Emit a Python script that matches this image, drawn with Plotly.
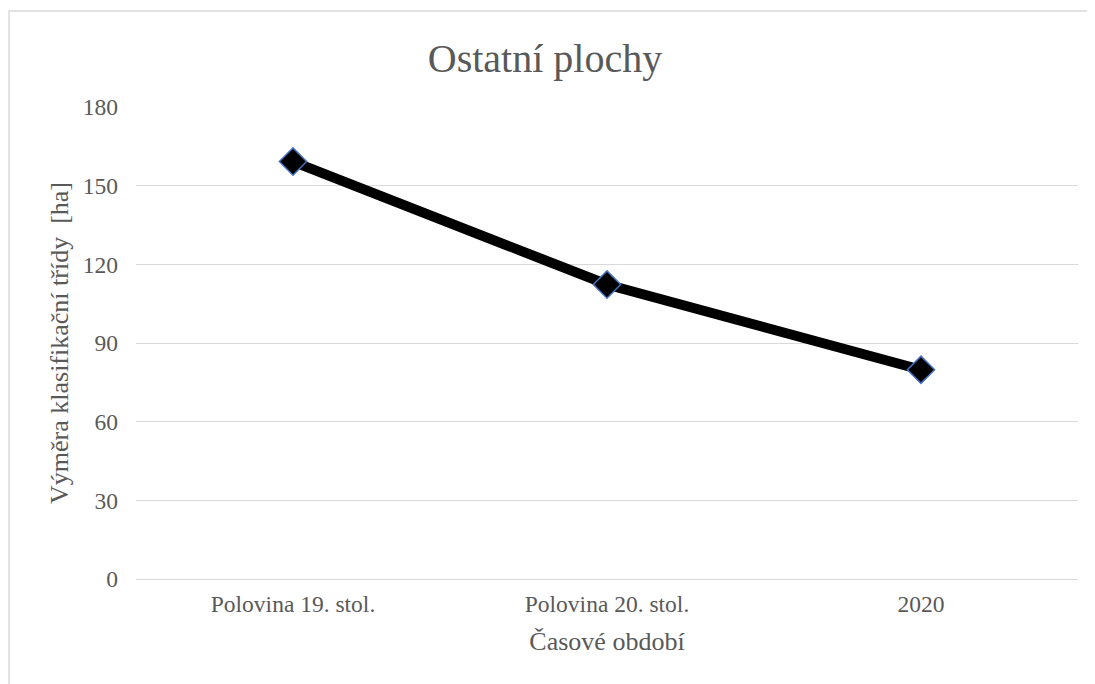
import plotly.graph_objects as go

categories = ["Polovina 19. stol.", "Polovina 20. stol.", "2020"]
values = [159.2, 112.3, 79.8]
y_ticks = [0, 30, 60, 90, 120, 150, 180]

# page has an 8px body margin; figure origin sits at (8, 8)
W, H = 1087, 676
L, R, T, B = 128, 17, 99, 105
pw = W - L - R
ph = H - T - B

fig = go.Figure()
fig.add_trace(go.Scatter(
    x=categories, y=values, mode="lines+markers",
    line=dict(color="black", width=10),
    marker=dict(symbol="diamond", size=21, color="black",
                line=dict(color="#4472C4", width=1.5)),
    showlegend=False, cliponaxis=False,
))

font = "Liberation Serif, Times New Roman, serif"
fig.update_layout(
    width=W, height=H,
    margin=dict(l=L, r=R, t=T, b=B),
    paper_bgcolor="white", plot_bgcolor="white",
    font=dict(family=font, color="#595959", size=23),
    title=dict(text="Ostatní plochy", x=(537 - L) / pw, xref="paper",
               xanchor="center", y=1 - 50 / H, yanchor="middle",
               font=dict(size=40, color="#595959", family=font)),
    xaxis=dict(showgrid=False, showline=False, ticks="",
               tickfont=dict(size=23.5, color="#595959"),
               ticklabelstandoff=8,
               title=dict(text="Časové období", font=dict(size=26, color="#595959"), standoff=16),
               range=[-0.5, 2.5]),
    yaxis=dict(range=[0, 180], tickvals=y_ticks, showgrid=True, gridcolor="#d9d9d9",
               gridwidth=1, zeroline=True, zerolinecolor="#d9d9d9", zerolinewidth=1,
               showline=False, ticks="", tickfont=dict(size=23.5, color="#595959"),
               ticklabelstandoff=17,
               title=dict(text="Výměra klasifikační třídy  [ha]",
                          font=dict(size=26, color="#595959"), standoff=6)),
    shapes=[dict(type="rect", xref="paper", yref="paper",
                 x0=(1 - L) / pw, x1=(1100 - L) / pw,
                 y0=-(700 - (H - B)) / ph, y1=1 + (T - 3) / ph,
                 line=dict(color="#d9d9d9", width=1.5), layer="below")],
)
fig.write_html("out.html")
